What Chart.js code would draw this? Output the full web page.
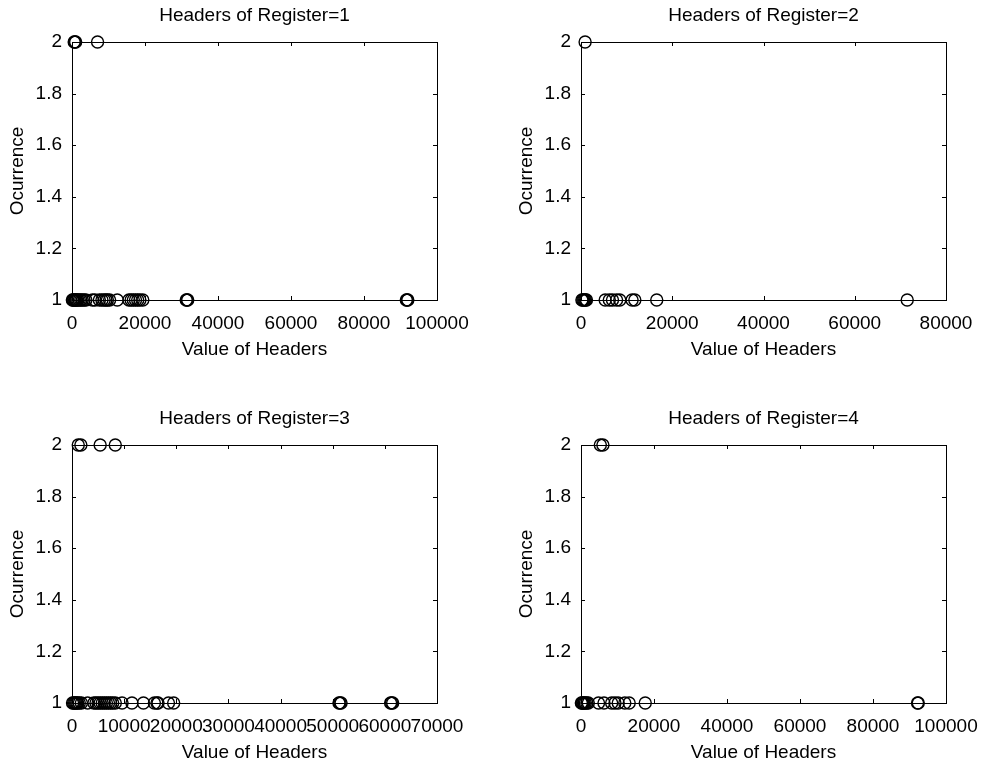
<!DOCTYPE html>
<html>
<head>
<meta charset="utf-8">
<script src="https://cdn.jsdelivr.net/npm/chart.js@4"></script>
<style>
  body { margin: 0; background: #fff; }
  .panel { position: absolute; width: 474px; height: 362px; }
</style>
</head>
<body>
<div class="panel" style="left:0;top:0"><canvas id="c1"></canvas></div>
<div class="panel" style="left:509px;top:0"><canvas id="c2"></canvas></div>
<div class="panel" style="left:0;top:403px"><canvas id="c3"></canvas></div>
<div class="panel" style="left:509px;top:403px"><canvas id="c4"></canvas></div>
<script>
// Header values seen once / twice, per register
const reg1Once = [100, 300, 500, 700, 900, 1100, 1300, 1600, 2000, 2400, 2800, 3300, 3800, 5600, 6300, 7500, 8200,
  8800, 9300, 9700, 10300, 12400, 15600, 16200, 16800, 17400, 18000, 18600, 19400, 31300, 31500, 31700,
  91600, 91800, 92000];
const reg1Twice = [600, 800, 1000, 7000];

const reg2Once = [200, 400, 600, 800, 1000, 1200, 5300, 6200, 6900, 7800, 8500, 11200, 11800, 16600, 71500];
const reg2Twice = [900];

const reg3Once = [100, 300, 500, 700, 900, 1100, 1400, 1800, 3000, 4200, 4600, 5000, 5400, 5800, 6200, 6600,
  7000, 7400, 7800, 8300, 9600, 11500, 13700, 15800, 16300, 16500, 18500, 19500, 51200, 51400, 51600,
  61100, 61300, 61500];
const reg3Twice = [1200, 1700, 5400, 8300];

const reg4Once = [100, 300, 500, 700, 900, 1200, 1600, 2000, 4800, 6300, 8400, 9300, 10200, 12000, 13200, 17600,
  92200, 92400];
const reg4Twice = [5300, 6000];

const titles = ['Headers of Register=1', 'Headers of Register=2', 'Headers of Register=3', 'Headers of Register=4'];
const xMax = [100000, 80000, 70000, 100000];
const xStep = [20000, 20000, 10000, 20000];

const font = { family: '"Liberation Sans", Arial, sans-serif', size: 19 };

// MATLAB-like box with inward ticks
const boxTicks = {
  id: 'boxTicks',
  beforeDatasetsDraw(chart) {
    const { ctx, chartArea: a, scales: { x, y } } = chart;
    const len = 4;
    ctx.save();
    ctx.strokeStyle = '#000';
    ctx.lineWidth = 1;
    ctx.strokeRect(a.left + 0.5, a.top + 0.5, a.right - a.left, a.bottom - a.top);
    ctx.beginPath();
    x.ticks.forEach(t => {
      const px = Math.round(x.getPixelForValue(t.value)) + 0.5;
      ctx.moveTo(px, a.bottom); ctx.lineTo(px, a.bottom - len);
      ctx.moveTo(px, a.top); ctx.lineTo(px, a.top + len);
    });
    y.ticks.forEach(t => {
      const py = Math.round(y.getPixelForValue(t.value)) + 0.5;
      ctx.moveTo(a.left, py); ctx.lineTo(a.left + len, py);
      ctx.moveTo(a.right, py); ctx.lineTo(a.right - len, py);
    });
    ctx.stroke();
    ctx.restore();
  }
};

function makeChart(id, idx, once, twice) {
  const points = once.map(v => ({ x: v, y: 1 })).concat(twice.map(v => ({ x: v, y: 2 })));
  return new Chart(document.getElementById(id), {
    type: 'scatter',
    data: {
      datasets: [{
        data: points,
        pointStyle: 'circle',
        pointRadius: 6,
        pointHoverRadius: 6,
        borderWidth: 1.4,
        borderColor: '#000',
        backgroundColor: 'rgba(0,0,0,0)',
        clip: false
      }]
    },
    options: {
      responsive: true,
      maintainAspectRatio: false,
      animation: false,
      layout: { padding: { left: 0, right: 37, top: 0, bottom: 0 } },
      plugins: {
        legend: { display: false },
        tooltip: { enabled: false },
        title: {
          display: true,
          text: titles[idx],
          color: '#000',
          fullSize: false,
          font: { ...font, weight: 'normal' },
          padding: { top: 4, bottom: 15.2 }
        }
      },
      scales: {
        x: {
          type: 'linear',
          min: 0,
          max: xMax[idx],
          grid: { display: false, drawTicks: false },
          border: { display: false },
          ticks: {
            stepSize: xStep[idx],
            autoSkip: false,
            maxRotation: 0,
            color: '#000',
            font: font,
            padding: 12,
            callback: v => String(v)
          },
          title: { display: true, text: 'Value of Headers', color: '#000', font: font, padding: { top: 0, bottom: 1 } },
          afterFit(s) { s.height = 62; s.paddingLeft = 0; s.paddingRight = 0; }
        },
        y: {
          type: 'linear',
          min: 1,
          max: 2,
          grid: { display: false, drawTicks: false },
          border: { display: false },
          ticks: {
            stepSize: 0.2,
            color: '#000',
            font: font,
            padding: 10,
            callback: v => String(+v.toFixed(1))
          },
          title: { display: true, text: 'Ocurrence', color: '#000', font: font, padding: { top: 6.6, bottom: 0 } },
          afterFit(s) { s.width = 72; s.paddingTop = 0; s.paddingBottom = 0; }
        }
      }
    },
    plugins: [boxTicks]
  });
}

makeChart('c1', 0, reg1Once, reg1Twice);
makeChart('c2', 1, reg2Once, reg2Twice);
makeChart('c3', 2, reg3Once, reg3Twice);
makeChart('c4', 3, reg4Once, reg4Twice);
</script>
</body>
</html>
